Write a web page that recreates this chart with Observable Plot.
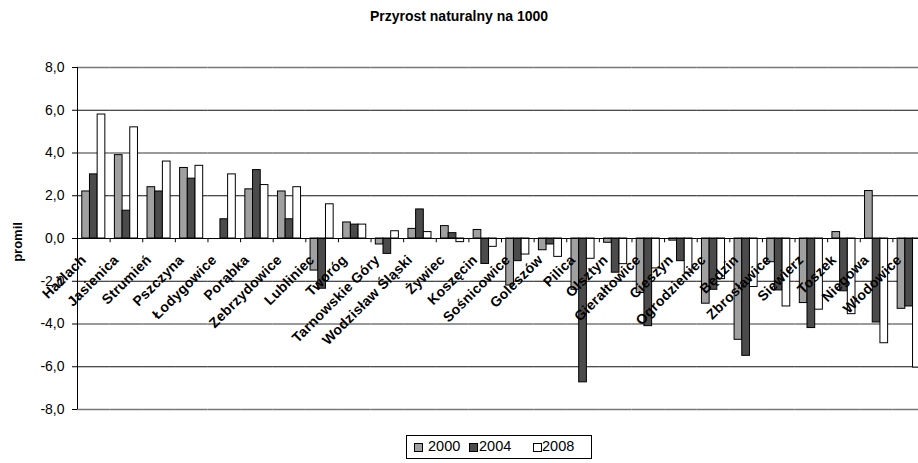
<!DOCTYPE html>
<html><head><meta charset="utf-8">
<script src="https://cdn.jsdelivr.net/npm/d3@7"></script>
<script src="https://cdn.jsdelivr.net/npm/@observablehq/plot@0.6"></script>
<style>
body{margin:0;background:#fff;}
#wrap{position:relative;width:918px;height:463px;overflow:hidden;font-family:"Liberation Sans",Arial,sans-serif;color:#000;}
#title{position:absolute;top:8px;left:0;width:918px;text-align:center;font-weight:bold;font-size:14px;line-height:16px;}
#chart{position:absolute;top:30px;left:0;}
#ylab{position:absolute;left:17px;top:242px;transform:translate(-50%,-50%) rotate(-90deg);font-weight:bold;font-size:13px;white-space:nowrap;}
#legend{position:absolute;left:406px;top:435px;width:184px;height:22px;border:1px solid #000;}
.sw{position:absolute;top:7px;width:7px;height:7px;border:1px solid #000;box-sizing:content-box;}
.lt{position:absolute;top:3px;font-size:14.5px;line-height:15px;}
</style></head>
<body>
<div id="wrap">
  <div id="title">Przyrost naturalny na 1000</div>
  <div id="chart"></div>
  <div id="ylab">promil</div>
  <div id="legend"></div>
</div>
<script>
const categories = ["Hażlach","Jasienica","Strumień","Pszczyna","Łodygowice","Porąbka","Zebrzydowice","Lubliniec","Tworóg","Tarnowskie Góry","Wodzisław Śląski","Żywiec","Koszęcin","Sośnicowice","Goleszów","Pilica","Olsztyn","Gierałtowice","Cieszyn","Ogrodzieniec","Będzin","Zbrosławice","Siewierz","Toszek","Niegowa","Włodowice"];
const series = ["2000","2004","2008"];
const v2000 = [2.2, 3.9, 2.4, 3.3, null, 2.3, 2.2, -1.5, 0.75, -0.28, 0.45, 0.58, 0.4, -2.2, -0.55, -2.4, -0.2, -2.55, -0.1, -3.05, -4.74, -1.11, -3.02, 0.3, 2.22, -3.29];
const v2004 = [3.0, 1.3, 2.2, 2.8, 0.9, 3.2, 0.9, -2.35, 0.65, -0.72, 1.36, 0.25, -1.19, -1.06, -0.28, -6.73, -1.6, -4.1, -1.06, -2.4, -5.49, -2.43, -4.19, -2.47, -3.93, -3.18];
const v2008 = [5.8, 5.2, 3.6, 3.4, 3.0, 2.5, 2.4, 1.6, 0.65, 0.34, 0.3, -0.17, -0.39, -0.75, -0.86, -0.95, -1.2, -1.4, -1.6, -1.9, -2.27, -3.18, -3.33, -3.54, -4.9, -6.04];
const yTicks = [-8, -6, -4, -2, 0, 2, 4, 6, 8];
const gridDark = [-6, -2, 2, 6];
const gridLight = [-8, -4, 4, 8];
const colors = ["#a0a0a0", "#4b4b4b", "#ffffff"];

const values = [v2000, v2004, v2008];
const data = categories.flatMap((c, i) => series.map((s, j) => ({cat: c, series: s, value: values[j][i]})));

const chart = Plot.plot({
  width: 925,
  height: 400,
  marginLeft: 77,
  marginRight: 0,
  marginTop: 37,
  marginBottom: 21,
  style: {fontFamily: "Liberation Sans, Arial, sans-serif", fontSize: "14px", color: "#000", background: "#fff", maxWidth: "none", overflow: "visible"},
  fx: {domain: categories, padding: 0, axis: null, round: false},
  x: {domain: series, paddingInner: 0, paddingOuter: 0.62, axis: null, round: false},
  y: {domain: [-8, 8], ticks: yTicks, tickFormat: d => d.toFixed(1).replace(".", ","), tickSize: 5, tickPadding: 8, label: null},
  color: {domain: series, range: colors},
  marks: [
    Plot.ruleY(gridLight, {stroke: "#777", strokeWidth: 1.6}),
    Plot.ruleY(gridDark, {stroke: "#111", strokeWidth: 1}),
    Plot.barY(data, {fx: "cat", x: "series", y: "value", fill: "series", stroke: "#000", strokeWidth: 1}),
    Plot.ruleY([0], {stroke: "#000", strokeWidth: 1}),
    Plot.ruleX(categories, {fx: d => d, x: null, y1: () => 0, y2: () => -0.2, dx: -16.3, stroke: "#000"}),
    Plot.ruleX([categories[0]], {fx: d => d, x: null, y1: () => -8, y2: () => 8, dx: -16.3, stroke: "#000"}),
    Plot.text(categories, {fx: d => d, y: () => 0, text: d => d, rotate: -45, textAnchor: "end", fontSize: 14, fontWeight: "bold", dx: -10, dy: 19, fill: "#000"})
  ]
});
chart.querySelectorAll('g[aria-label="text"] text').forEach(t => t.style.letterSpacing = "0.3px");
document.getElementById("chart").appendChild(chart);

const legend = document.getElementById("legend");
const swX = [7, 62, 126];
const txX = [21, 72, 135];
series.forEach((s, j) => {
  const sw = document.createElement("div");
  sw.className = "sw"; sw.style.left = swX[j] + "px"; sw.style.background = colors[j];
  legend.appendChild(sw);
  const t = document.createElement("div");
  t.className = "lt"; t.style.left = txX[j] + "px"; t.textContent = s;
  legend.appendChild(t);
});
</script>
</body></html>
